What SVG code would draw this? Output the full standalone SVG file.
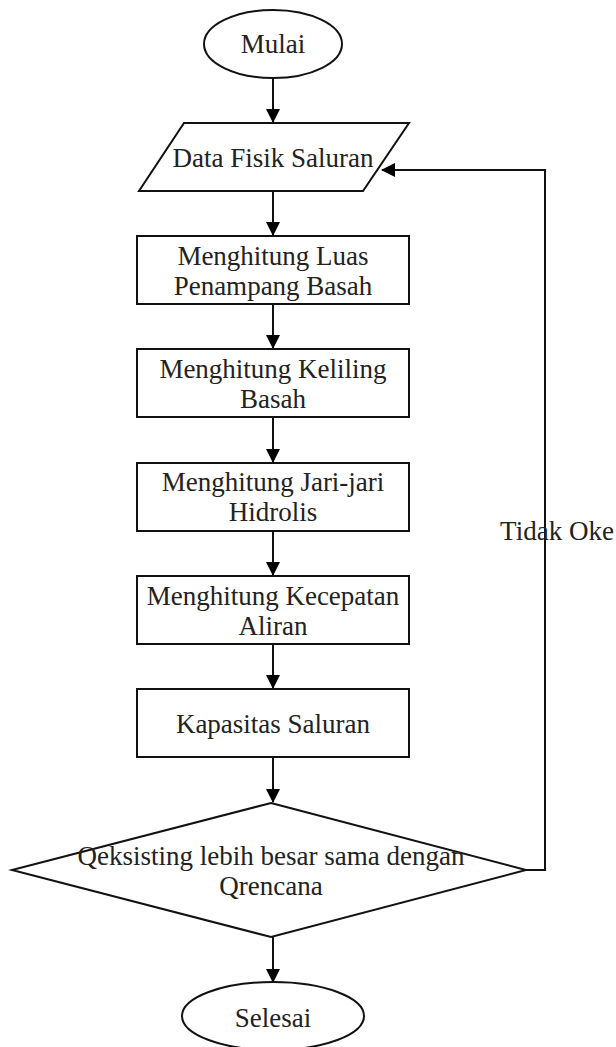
<svg xmlns="http://www.w3.org/2000/svg" width="616" height="1047" viewBox="0 0 616 1047">
<style>
.s{fill:#fff;stroke:#111;stroke-width:2}
.t{font-family:"Liberation Serif","Times New Roman",serif;font-size:27px;fill:#222;text-anchor:middle}
.c{fill:none;stroke:#111;stroke-width:2}
</style>
<defs>
<marker id="ah" markerWidth="14" markerHeight="14" refX="13" refY="7" orient="auto" markerUnits="userSpaceOnUse">
<path d="M0,0 L14,7 L0,14 Z" fill="#000"/>
</marker>
</defs>
<rect width="616" height="1047" fill="#fff"/>
<g id="connectors">
<line class="c" x1="273" y1="78" x2="273" y2="122" marker-end="url(#ah)"/>
<line class="c" x1="273" y1="191" x2="273" y2="235" marker-end="url(#ah)"/>
<line class="c" x1="273" y1="304" x2="273" y2="348" marker-end="url(#ah)"/>
<line class="c" x1="273" y1="417" x2="273" y2="462" marker-end="url(#ah)"/>
<line class="c" x1="273" y1="531" x2="273" y2="575" marker-end="url(#ah)"/>
<line class="c" x1="273" y1="644" x2="273" y2="688" marker-end="url(#ah)"/>
<line class="c" x1="273" y1="757" x2="273" y2="802" marker-end="url(#ah)"/>
<line class="c" x1="273" y1="937" x2="273" y2="982" marker-end="url(#ah)"/>
<polyline class="c" points="526,870 545,870 545,170 382,170" marker-end="url(#ah)"/>
<text class="t" x="557" y="540">Tidak Oke</text>
</g>
<g id="mulai">
<ellipse class="s" cx="273" cy="44" rx="69" ry="34"/>
<text class="t" x="273" y="53">Mulai</text>
</g>
<g id="data">
<polygon class="s" points="184,123 409,123 363,191 139,191"/>
<text class="t" x="273" y="167">Data Fisik Saluran</text>
</g>
<g id="luas">
<rect class="s" x="137" y="236" width="272" height="68"/>
<text class="t" x="273" y="265">Menghitung Luas</text>
<text class="t" x="273" y="295">Penampang Basah</text>
</g>
<g id="keliling">
<rect class="s" x="137" y="349" width="272" height="68"/>
<text class="t" x="273" y="378">Menghitung Keliling</text>
<text class="t" x="273" y="408">Basah</text>
</g>
<g id="jari">
<rect class="s" x="137" y="463" width="272" height="68"/>
<text class="t" x="273" y="491">Menghitung Jari-jari</text>
<text class="t" x="273" y="521">Hidrolis</text>
</g>
<g id="kecepatan">
<rect class="s" x="137" y="576" width="272" height="68"/>
<text class="t" x="273" y="605">Menghitung Kecepatan</text>
<text class="t" x="273" y="635">Aliran</text>
</g>
<g id="kapasitas">
<rect class="s" x="137" y="689" width="272" height="68"/>
<text class="t" x="273" y="733">Kapasitas Saluran</text>
</g>
<g id="keputusan">
<polygon class="s" points="271,803 526,870 271,937 12,870"/>
<text class="t" x="271" y="865">Qeksisting lebih besar sama dengan</text>
<text class="t" x="271" y="895">Qrencana</text>
</g>
<g id="selesai">
<ellipse class="s" cx="273" cy="1016" rx="91" ry="34"/>
<text class="t" x="273" y="1027">Selesai</text>
</g>
</svg>
